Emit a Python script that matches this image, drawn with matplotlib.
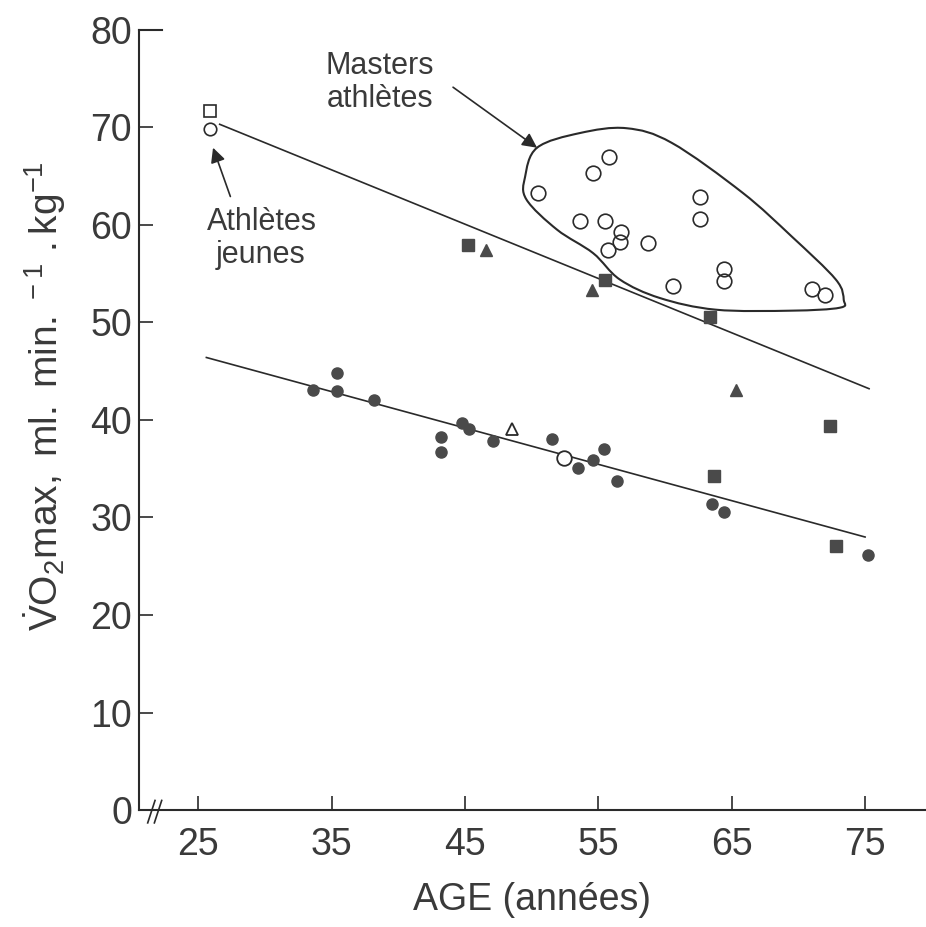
import numpy as np
import matplotlib
matplotlib.use("Agg")
import matplotlib.pyplot as plt
from matplotlib.path import Path
from matplotlib.patches import PathPatch

plt.rcParams['font.family'] = ['Liberation Sans', 'DejaVu Sans']
plt.rcParams['mathtext.fontset'] = 'custom'
plt.rcParams['mathtext.rm'] = 'Liberation Sans'
plt.rcParams['mathtext.it'] = 'Liberation Sans'

# ---------------- data ----------------
young_sq_age = [25.9]
young_sq_v = [71.7]
young_ci_age = [25.9]
young_ci_v = [69.8]

masters_age = [50.5, 54.6, 55.8, 53.6, 55.5, 56.7, 56.6, 55.7, 58.7, 62.6, 62.6, 60.6, 64.4, 64.4, 71.0, 72.0]
masters_v = [63.3, 65.3, 66.9, 60.4, 60.4, 59.3, 58.2, 57.4, 58.1, 62.9, 60.6, 53.7, 55.5, 54.2, 53.4, 52.8]

fsq_age = [45.2, 55.5, 63.4, 72.4, 63.7, 72.8]
fsq_v = [57.9, 54.3, 50.6, 39.4, 34.3, 27.1]

ftri_age = [46.6, 54.5, 65.3]
ftri_v = [57.4, 53.3, 43.1]

otri_age = [48.5]
otri_v = [39.1]

oci_age = [52.4]
oci_v = [36.1]

fci_age = [33.6, 35.4, 35.4, 38.2, 43.2, 43.2, 44.8, 45.3, 47.1, 51.5, 53.5, 54.6, 55.4, 56.4, 63.5, 64.4, 75.2]
fci_v = [43.1, 44.8, 43.0, 42.0, 38.2, 36.7, 39.7, 39.1, 37.8, 38.0, 35.1, 35.9, 37.0, 33.7, 31.4, 30.6, 26.2]

upper_line_age = [26.6, 75.3]
upper_line_v = [70.3, 43.2]
lower_line_age = [25.6, 75.0]
lower_line_v = [46.4, 28.0]

masters_outline_age = [50.4, 53.6, 57.1, 60.5, 65.8, 69.5, 72.8, 73.4, 73.1, 69.5, 63.8, 59.6, 56.6, 54.6, 51.9, 49.6, 49.5]
masters_outline_v = [67.9, 69.4, 69.9, 68.4, 63.3, 58.8, 54.4, 52.3, 51.5, 51.2, 51.3, 52.5, 54.4, 57.1, 59.5, 62.6, 64.9]

xticks = [25, 35, 45, 55, 65, 75]
yticks = [0, 10, 20, 30, 40, 50, 60, 70, 80]

# ---------------- figure ----------------
fig = plt.figure(figsize=(9.26, 9.27), dpi=100)
ax = fig.add_axes([0.150, 0.126, 0.849, 0.842])
ax.set_xlim(20.54, 79.5)
ax.set_ylim(0, 80)

ink = '#2a2a2a'
mk = '#4a4a4a'
txt_c = '#3a3a3a'

for s in ['top', 'right']:
    ax.spines[s].set_visible(False)
for s in ['left', 'bottom']:
    ax.spines[s].set_linewidth(1.5)
    ax.spines[s].set_color(ink)

ax.set_xticks(xticks)
ax.set_yticks(yticks)
ax.tick_params(axis='both', direction='in', length=10, width=1.2, color=ink,
               labelsize=27, labelcolor=txt_c)
ax.tick_params(axis='x', pad=12)
ax.tick_params(axis='y', pad=5)

# regression lines
ax.plot(upper_line_age, upper_line_v, color=ink, lw=1.2)
ax.plot(lower_line_age, lower_line_v, color=ink, lw=1.2)

# markers
ax.plot(young_sq_age, young_sq_v, 's', ms=9, mfc='white', mec=ink, mew=1.2)
ax.plot(young_ci_age, young_ci_v, 'o', ms=9, mfc='white', mec=ink, mew=1.2)
ax.plot(masters_age, masters_v, 'o', ms=10.5, mfc='none', mec=ink, mew=1.2, ls='none')
ax.plot(fsq_age, fsq_v, 's', ms=8, color=mk, ls='none')
ax.plot(ftri_age, ftri_v, '^', ms=8, color=mk, ls='none')
ax.plot(otri_age, otri_v, '^', ms=8, mfc='white', mec=ink, mew=1.3, ls='none')
ax.plot(oci_age, oci_v, 'o', ms=10.5, mfc='white', mec=ink, mew=1.3, ls='none')
ax.plot(fci_age, fci_v, 'o', ms=8, color=mk, ls='none')

# masters outline (closed smooth curve)
P = np.column_stack([masters_outline_age, masters_outline_v])
n = len(P)
verts = [tuple(P[0])]
codes = [Path.MOVETO]
for i in range(n):
    p0 = P[(i - 1) % n]; p1 = P[i]; p2 = P[(i + 1) % n]; p3 = P[(i + 2) % n]
    c1 = p1 + (p2 - p0) / 6.0
    c2 = p2 - (p3 - p1) / 6.0
    verts += [tuple(c1), tuple(c2), tuple(p2)]
    codes += [Path.CURVE4] * 3
ax.add_patch(PathPatch(Path(verts, codes), fill=False, ec=ink, lw=1.5))

# annotations
ax.text(38.6, 75.5, 'Masters', ha='center', va='baseline', fontsize=22, color=txt_c)
ax.text(38.6, 72.1, 'athlètes', ha='center', va='baseline', fontsize=22, color=txt_c)
ax.annotate('', xy=(50.4, 67.9), xytext=(44.1, 74.1),
            arrowprops=dict(arrowstyle='-|>', color=ink, lw=1.2, mutation_scale=22,
                            shrinkA=0, shrinkB=0))
ax.text(29.8, 59.5, 'Athlètes', ha='center', va='baseline', fontsize=22, color=txt_c)
ax.text(29.7, 56.1, 'jeunes', ha='center', va='baseline', fontsize=22, color=txt_c)
ax.annotate('', xy=(26.1, 67.9), xytext=(27.4, 62.9),
            arrowprops=dict(arrowstyle='-|>', color=ink, lw=1.2, mutation_scale=22,
                            shrinkA=0, shrinkB=0))

# axis break marks and top tick
ax.plot([21.2, 21.75], [-1.3, 1.0], color=ink, lw=1.2, clip_on=False)
ax.plot([21.7, 22.25], [-1.3, 1.0], color=ink, lw=1.2, clip_on=False)
ax.plot([20.54, 22.3], [80, 80], color=ink, lw=1.5, clip_on=False)

ax.set_xlabel('AGE (années)', fontsize=27, color=txt_c, labelpad=14)
ax.set_ylabel(r'$\dot{\mathrm{V}}\mathrm{O_2max,\ ml.\ min.^{\,-1}\ .kg^{-1}}$',
              fontsize=28, color=txt_c)
ax.yaxis.set_label_coords(-0.09, 0.53)

fig.savefig('out.png', dpi=100)
